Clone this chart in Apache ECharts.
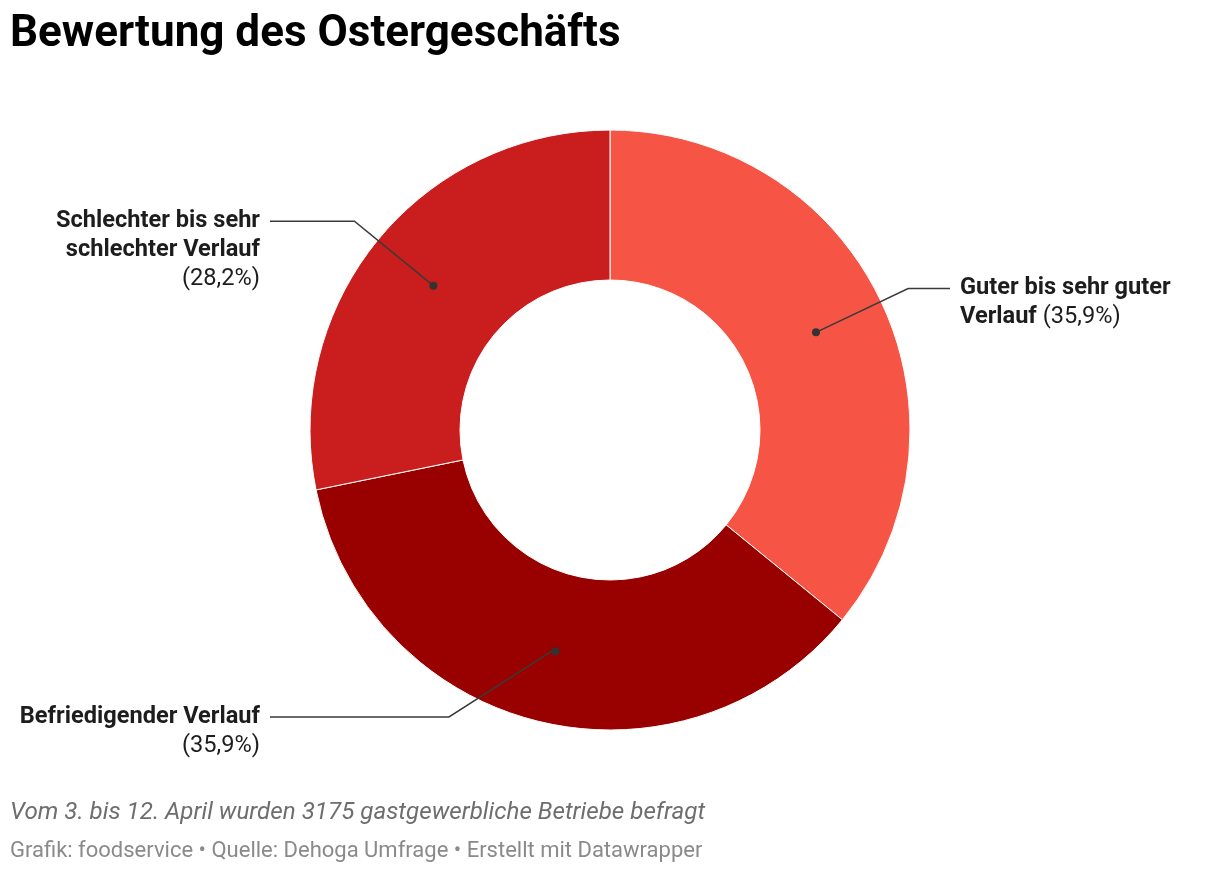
<!DOCTYPE html>
<html>
<head>
<meta charset="utf-8">
<script src="https://cdn.jsdelivr.net/npm/echarts@6/dist/echarts.min.js"></script>
<style>
html,body{margin:0;padding:0;background:#fff;}
#chart{width:1220px;height:874px;}
</style>
</head>
<body>
<div id="chart"></div>
<script>
// ---- data ----
const categories = ['Guter bis sehr guter Verlauf', 'Befriedigender Verlauf', 'Schlechter bis sehr schlechter Verlauf'];
const values = [35.9, 35.9, 28.2];
const colors = ['#f65545', '#990000', '#c91d1e'];
// label text split into lines
const labelLines = [
  ['Guter bis sehr guter', 'Verlauf'],
  ['Befriedigender Verlauf'],
  ['Schlechter bis sehr', 'schlechter Verlauf']
];
const pctOnOwnLine = [false, true, true];

const titleText = 'Bewertung des Ostergeschäfts';
const noteText = 'Vom 3. bis 12. April wurden 3175 gastgewerbliche Betriebe befragt';
const sourceText = 'Grafik: foodservice • Quelle: Dehoga Umfrage • Erstellt mit Datawrapper';

// ---- layout ----
const CX = 610, CY = 430, R0 = 150, R1 = 300;
const DOT_R = (R0 + R1) / 2, ELBOW_R = 330;
const LEFT_END = 270, RIGHT_END = 950, LABEL_GAP = 10, LINE_H = 29;
const elbowOverride = {1: [449, 717]};

function fmtPct(v) { return '(' + v.toFixed(1).replace('.', ',') + '%)'; }

const total = values.reduce((a, b) => a + b, 0);
function midAngle(i) {
  let cum = 0;
  for (let k = 0; k < i; k++) cum += values[k];
  const frac = (cum + values[i] / 2) / total;
  return frac * Math.PI * 2; // clockwise from top
}
function polar(r, a) { return [CX + r * Math.sin(a), CY - r * Math.cos(a)]; }
function isRight(i) { return Math.sin(midAngle(i)) > 0; }

function labelText(i) {
  const side = isRight(i) ? 'L' : 'R';
  const lines = labelLines[i].map(t => '{b' + side + '|' + t + '}');
  const pct = fmtPct(values[i]);
  if (pctOnOwnLine[i]) lines.push('{n' + side + '|' + pct + '}');
  else lines[lines.length - 1] += '{n' + side + '| ' + pct + '}';
  return lines.join('\n');
}

const baseText = {fontFamily: 'Roboto', fontSize: 23.6, color: '#1d1d1d', lineHeight: LINE_H};
const rich = {
  bL: Object.assign({}, baseText, {fontWeight: 'bold', align: 'left'}),
  nL: Object.assign({}, baseText, {fontWeight: 'normal', align: 'left'}),
  bR: Object.assign({}, baseText, {fontWeight: 'bold', align: 'right'}),
  nR: Object.assign({}, baseText, {fontWeight: 'normal', align: 'right'})
};

const pieData = categories.map((c, i) => ({name: c, value: values[i], itemStyle: {color: colors[i]}}));

const chart = echarts.init(document.getElementById('chart'), null, {renderer: 'canvas'});
chart.setOption({
  animation: false,
  backgroundColor: '#fff',
  title: [
    {text: titleText, left: 10, top: 13, padding: 0,
     textStyle: {fontFamily: 'Roboto', fontWeight: 'bold', fontSize: 44, lineHeight: 44, color: '#000'}},
    {text: noteText, left: 10, top: 799, padding: 0,
     textStyle: {fontFamily: 'Roboto', fontStyle: 'italic', fontWeight: 'normal', fontSize: 24.2, lineHeight: 28, color: '#6e6e6e'}},
    {text: sourceText, left: 10, top: 838, padding: 0,
     textStyle: {fontFamily: 'Roboto', fontWeight: 'normal', fontSize: 22, lineHeight: 26, color: '#8a8a8a'}}
  ],
  series: [
    {
      type: 'pie',
      z: 2,
      center: [CX, CY],
      radius: [R0, R1],
      startAngle: 90,
      clockwise: true,
      avoidLabelOverlap: false,
      silent: true,
      emphasis: {disabled: true},
      itemStyle: {borderColor: '#fff', borderWidth: 1},
      label: {show: false},
      labelLine: {show: false},
      data: pieData
    },
    {
      type: 'pie',
      z: 5,
      center: [CX, CY],
      radius: [R0, R1],
      startAngle: 90,
      clockwise: true,
      avoidLabelOverlap: false,
      silent: true,
      emphasis: {disabled: true},
      itemStyle: {color: 'rgba(0,0,0,0)', borderWidth: 0},
      label: {
        show: true, position: 'inside', formatter: ' ',
        width: 8, height: 8, padding: 0, fontSize: 1, lineHeight: 8,
        backgroundColor: '#333', borderRadius: 4
      },
      labelLine: {show: false},
      data: pieData.map(d => ({name: d.name, value: d.value, itemStyle: {color: 'rgba(0,0,0,0)'}}))
    },
    {
      type: 'pie',
      z: 4,
      center: [CX, CY],
      radius: [R0, R1],
      startAngle: 90,
      clockwise: true,
      avoidLabelOverlap: false,
      silent: true,
      emphasis: {disabled: true},
      itemStyle: {color: 'rgba(0,0,0,0)', borderWidth: 0},
      label: {
        show: true, position: 'outside',
        formatter: p => labelText(p.dataIndex),
        rich: rich
      },
      labelLine: {show: true, lineStyle: {color: '#3a3a3a', width: 1.5}},
      labelLayout: function (params) {
        const i = params.dataIndex;
        const a = midAngle(i);
        const p0 = polar(DOT_R, a);
        const el = elbowOverride[i] || polar(ELBOW_R, a);
        const right = isRight(i);
        const endX = right ? RIGHT_END : LEFT_END;
        return {
          x: right ? endX + LABEL_GAP : endX - LABEL_GAP,
          y: el[1] - LINE_H / 2,
          align: right ? 'left' : 'right',
          verticalAlign: 'top',
          labelLinePoints: [p0, el, [endX, el[1]]]
        };
      },
      data: pieData.map(d => ({name: d.name, value: d.value, itemStyle: {color: 'rgba(0,0,0,0)'}}))
    }
  ]
});
</script>
</body>
</html>
